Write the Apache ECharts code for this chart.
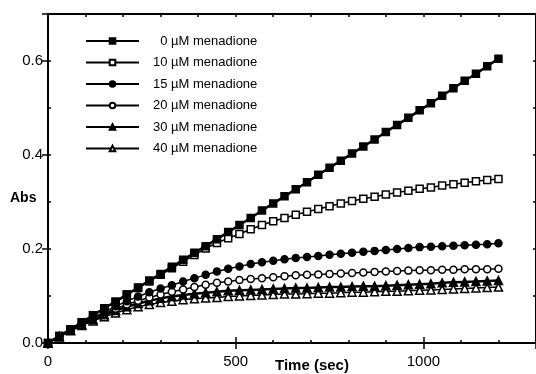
<!DOCTYPE html>
<html>
<head>
<meta charset="utf-8">
<script src="https://cdn.jsdelivr.net/npm/echarts@6/dist/echarts.min.js"></script>
<style>
html,body{margin:0;padding:0;background:#fff;}
#chart{width:536px;height:374px;}
</style>
</head>
<body>
<div id="chart"></div>
<script>
// Time points (sec)
const times = [0,30,60,90,120,150,180,210,240,270,300,330,360,390,420,450,480,510,540,570,600,630,660,690,720,750,780,810,840,870,900,930,960,990,1020,1050,1080,1110,1140,1170,1200];

const seriesNames = ['  0 \u00b5M menadione','10 \u00b5M menadione','15 \u00b5M menadione','20 \u00b5M menadione','30 \u00b5M menadione','40 \u00b5M menadione'];

const abs0 = [0,0.015,0.029,0.044,0.059,0.074,0.088,0.103,0.118,0.133,0.147,0.162,0.177,0.192,0.206,0.221,0.236,0.251,0.266,0.282,0.297,0.312,0.327,0.342,0.358,0.373,0.388,0.403,0.418,0.433,0.449,0.464,0.479,0.495,0.510,0.526,0.542,0.558,0.573,0.589,0.605];
const abs10 = [0,0.015,0.029,0.044,0.059,0.074,0.088,0.103,0.117,0.131,0.145,0.159,0.173,0.187,0.201,0.213,0.223,0.232,0.242,0.251,0.259,0.266,0.273,0.279,0.285,0.291,0.297,0.302,0.307,0.311,0.316,0.320,0.324,0.328,0.331,0.335,0.338,0.341,0.344,0.347,0.349];
const abs15 = [0,0.014,0.028,0.041,0.054,0.066,0.078,0.089,0.099,0.108,0.116,0.123,0.131,0.138,0.145,0.152,0.158,0.163,0.168,0.172,0.175,0.178,0.181,0.183,0.185,0.188,0.190,0.192,0.194,0.196,0.198,0.200,0.202,0.204,0.205,0.206,0.207,0.208,0.209,0.210,0.212];
const abs20 = [0,0.014,0.027,0.040,0.052,0.063,0.073,0.082,0.090,0.097,0.103,0.109,0.114,0.119,0.124,0.128,0.131,0.134,0.136,0.138,0.140,0.142,0.144,0.145,0.146,0.147,0.148,0.149,0.150,0.151,0.152,0.153,0.154,0.155,0.155,0.156,0.156,0.157,0.157,0.157,0.158];
const abs30 = [0,0.014,0.027,0.039,0.050,0.060,0.069,0.077,0.084,0.090,0.095,0.099,0.102,0.105,0.107,0.109,0.111,0.112,0.113,0.114,0.115,0.116,0.117,0.117,0.118,0.119,0.119,0.120,0.121,0.121,0.122,0.123,0.124,0.125,0.126,0.128,0.129,0.130,0.131,0.132,0.133];
const abs40 = [0,0.013,0.026,0.037,0.047,0.056,0.064,0.071,0.077,0.082,0.086,0.089,0.092,0.094,0.096,0.097,0.099,0.100,0.101,0.102,0.103,0.104,0.104,0.105,0.106,0.106,0.107,0.108,0.108,0.109,0.110,0.110,0.111,0.112,0.113,0.114,0.115,0.116,0.117,0.118,0.119];

const xTickLabels = [0, 500, 1000];
const yTickLabels = [0.0, 0.2, 0.4, 0.6];

const allValues = [abs0, abs10, abs15, abs20, abs30, abs40];
const symbols = ['rect','rect','circle','circle','triangle','triangle'];
const filled = [true,false,true,false,true,false];
const widths = [2.5,1.5,1.5,1.5,2.5,1.5];
const sizes = [7,7,7,7,8,8];

const FONT = 'Liberation Sans';

function pairs(vals){ return times.map((t,i)=>[t, vals[i]]); }

const series = allValues.map((vals, i) => ({
  name: seriesNames[i],
  type: 'line',
  xAxisIndex: 0,
  yAxisIndex: 0,
  data: pairs(vals),
  symbol: symbols[i],
  symbolSize: sizes[i],
  showAllSymbol: true,
  lineStyle: {color: '#000', width: widths[i]},
  itemStyle: {color: filled[i] ? '#000' : '#fff', borderColor: '#000', borderWidth: 1.5},
  emphasis: {disabled: true},
  animation: false,
  z: 10 - i
}));

const baseX = {
  type: 'value', min: 0, max: 1300, gridIndex: 0,
  splitLine: {show: false},
  axisLine: {show: false, lineStyle: {color: '#000', width: 2}},
  axisTick: {show: true, inside: true, length: 3, lineStyle: {color: '#000', width: 1.5}},
  axisLabel: {show: false}
};
const baseY = {
  type: 'value', min: 0, max: 0.7, gridIndex: 0,
  splitLine: {show: false},
  axisLine: {show: false, lineStyle: {color: '#000', width: 2}},
  axisTick: {show: true, inside: true, length: 3, lineStyle: {color: '#000', width: 1.5}},
  axisLabel: {show: false}
};
function merge(a, b){ return Object.assign({}, JSON.parse(JSON.stringify(a)), b); }

const option = {
  animation: false,
  backgroundColor: '#fff',
  grid: {left: 48, top: 14, width: 489, height: 329, containLabel: false},
  legend: {
    orient: 'vertical', left: 85, top: 34, padding: 0,
    itemWidth: 53, itemHeight: 7, itemGap: 7.5,
    textStyle: {fontFamily: FONT, fontSize: 13, color: '#000', lineHeight: 14, padding: [0,0,0,9]},
    selectedMode: false,
    data: seriesNames
  },
  xAxis: [
    merge(baseX, {position: 'bottom', interval: 100,
      axisLine: {show: true, onZero: false, lineStyle: {color: '#000', width: 2}},
      axisLabel: {show: true, margin: 11, color: '#000', fontFamily: FONT, fontSize: 15, showMaxLabel: false,
        formatter: v => xTickLabels.indexOf(v) >= 0 ? String(v) : ''}}),
    merge(baseX, {position: 'bottom', interval: 500,
      axisTick: {show: true, inside: true, length: 6, lineStyle: {color: '#000', width: 1.5}}}),
    merge(baseX, {position: 'top', interval: 100,
      axisLine: {show: true, onZero: false, lineStyle: {color: '#000', width: 2}}}),
    merge(baseX, {position: 'top', interval: 500,
      axisTick: {show: true, inside: true, length: 6, lineStyle: {color: '#000', width: 1.5}}})
  ],
  yAxis: [
    merge(baseY, {position: 'left', interval: 0.2,
      axisLine: {show: true, onZero: false, lineStyle: {color: '#000', width: 2}},
      axisTick: {show: true, inside: false, length: 5, lineStyle: {color: '#000', width: 1.5}},
      axisLabel: {show: true, margin: 5, color: '#000', fontFamily: FONT, fontSize: 15, showMaxLabel: false,
        formatter: v => { const k = yTickLabels.findIndex(t => Math.abs(t - v) < 1e-9); return k >= 0 ? yTickLabels[k].toFixed(1) : ''; }}}),
    merge(baseY, {position: 'left', interval: 0.1}),
    merge(baseY, {position: 'right', interval: 0.1,
      axisLine: {show: true, onZero: false, lineStyle: {color: '#000', width: 2}}}),
    merge(baseY, {position: 'right', interval: 0.2,
      axisTick: {show: true, inside: true, length: 6, lineStyle: {color: '#000', width: 1.5}}})
  ],
  graphic: [
    {type: 'text', left: 10, top: 191, style: {text: 'Abs', font: 'bold 14px "Liberation Sans"', fill: '#000'}},
    {type: 'text', left: 275, top: 358, style: {text: 'Time (sec)', font: 'bold 15px "Liberation Sans"', fill: '#000'}}
  ],
  series: series
};

const chart = echarts.init(document.getElementById('chart'), null, {renderer: 'canvas'});
chart.setOption(option);
</script>
</body>
</html>
